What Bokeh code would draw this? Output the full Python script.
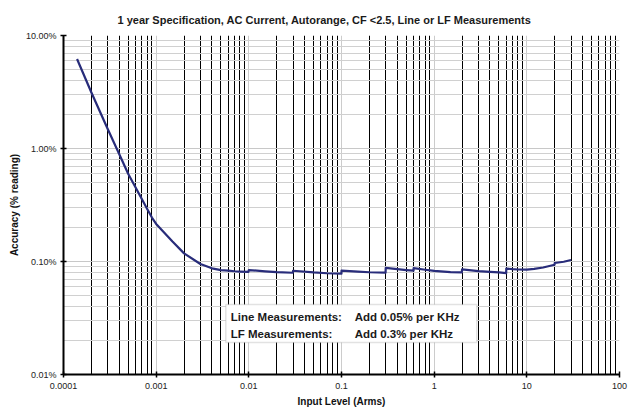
from bokeh.plotting import figure
from bokeh.models import Range1d, FixedTicker, BoxAnnotation, Label
from bokeh.embed import file_html
from bokeh.resources import INLINE

# ---- data ----
input_level = [0.00014, 0.0002, 0.0003, 0.0004, 0.0005, 0.0006, 0.0007, 0.0008, 0.0009,
               0.001, 0.0015, 0.002, 0.003, 0.004, 0.005, 0.006, 0.007, 0.008, 0.0099,
               0.01, 0.015, 0.02, 0.0299,
               0.03, 0.05, 0.07, 0.0999,
               0.1, 0.15, 0.2, 0.299,
               0.3, 0.4, 0.5, 0.599,
               0.6, 0.8, 1.0, 1.5, 1.99,
               2.0, 3.0, 4.0, 5.0, 5.99,
               6.0, 7.0, 8.0, 10.0, 12.0, 15.0, 19.9,
               20.0, 25.0, 30.0]
accuracy_pct = [6.2, 3.13, 1.49, 0.89, 0.594, 0.452, 0.357, 0.291, 0.245,
                0.215, 0.150, 0.118, 0.095, 0.087, 0.084, 0.0830, 0.0820, 0.0815, 0.0810,
                0.0840, 0.0818, 0.0805, 0.0795,
                0.0828, 0.0800, 0.0787, 0.0780,
                0.0830, 0.0812, 0.0803, 0.0797,
                0.0877, 0.0855, 0.0840, 0.0830,
                0.0873, 0.0845, 0.0825, 0.0805, 0.0800,
                0.0853, 0.0822, 0.0810, 0.0800, 0.0788,
                0.0866, 0.0855, 0.0850, 0.0848, 0.0860, 0.0885, 0.0935,
                0.0970, 0.0995, 0.103]

x_ticks = [0.0001, 0.001, 0.01, 0.1, 1, 10, 100]
x_tick_labels = ["0.0001", "0.001", "0.01", "0.1", "1", "10", "100"]
y_ticks = [0.01, 0.1, 1, 10]
y_tick_labels = ["0.01%", "0.10%", "1.00%", "10.00%"]

title_text = "1 year Specification, AC Current, Autorange, CF <2.5, Line or LF Measurements"
note_names = ["Line Measurements:", "LF Measurements:"]
note_values = ["Add 0.05% per KHz", "Add 0.3% per KHz"]

FONT = "Liberation Sans"

p = figure(width=642, height=409, x_axis_type="log", y_axis_type="log",
           x_range=Range1d(0.0001, 100), y_range=Range1d(0.01, 10),
           output_backend="svg", toolbar_location=None,
           min_border_left=63, min_border_right=23, min_border_top=35, min_border_bottom=35)

p.title.text = title_text
p.title.align = "left"
p.title.offset = 54
p.title.text_font = FONT
p.title.text_font_size = "11px"
p.title.text_font_style = "bold"
p.title.text_color = "#1a1a1a"
p.title.standoff = 20

p.outline_line_color = None
p.background_fill_color = "white"

x_minor = [m * 10.0 ** e for e in range(-4, 2) for m in range(2, 10)]
y_minor = [m * 10.0 ** e for e in range(-2, 1) for m in range(2, 10)]
xt = FixedTicker(ticks=x_ticks, minor_ticks=x_minor)
yt = FixedTicker(ticks=y_ticks, minor_ticks=y_minor)
p.xaxis.ticker = xt
p.yaxis.ticker = yt
p.xgrid.ticker = xt
p.ygrid.ticker = yt

p.xaxis.major_label_overrides = dict(zip(x_ticks, x_tick_labels))
p.yaxis.major_label_overrides = dict(zip(y_ticks, y_tick_labels))

for ax in (p.xaxis, p.yaxis):
    ax.axis_line_color = "black"
    ax.axis_line_width = 2
    ax.major_tick_line_color = "black"
    ax.major_tick_line_width = 1.5
    ax.major_tick_in = 3
    ax.major_tick_out = 3
    ax.minor_tick_line_color = None
    ax.major_label_text_font = FONT
    ax.major_label_text_font_size = "9px"
    ax.major_label_text_color = "#222222"
    ax.axis_label_text_font = FONT
    ax.axis_label_text_font_size = "10px"
    ax.axis_label_text_font_style = "bold"
    ax.axis_label_text_color = "#111111"

p.xaxis.axis_label = "Input Level (Arms)"
p.yaxis.axis_label = "Accuracy (% reading)"
p.xaxis.major_label_standoff = 4
p.xaxis.axis_label_standoff = 4
p.yaxis.major_label_standoff = 3
p.yaxis.axis_label_standoff = 3

p.xgrid.grid_line_color = "#cccccc"
p.xgrid.minor_grid_line_color = "black"
p.xgrid.minor_grid_line_width = 1
p.ygrid.grid_line_color = "#c8c8c8"
p.ygrid.minor_grid_line_color = "#d0d0d0"

p.line(input_level, accuracy_pct, line_color="#282c7a", line_width=2.2, line_join="round")

box = BoxAnnotation(left=0.00564, right=2.88, top=0.0417, bottom=0.0192,
                    fill_color="white", fill_alpha=1.0,
                    line_color="#a0a0a0", line_width=1.5)
p.add_layout(box)

rows_y = [0.0320, 0.0228]
for name, val, yy in zip(note_names, note_values, rows_y):
    p.add_layout(Label(x=0.00638, y=yy, text=name, text_font=FONT, text_font_size="11.5px",
                       text_font_style="bold", text_baseline="middle", text_color="#1a1a1a"))
    p.add_layout(Label(x=0.1387, y=yy, text=val, text_font=FONT, text_font_size="11.5px",
                       text_font_style="bold", text_baseline="middle", text_color="#1a1a1a"))

open("out.html", "w").write(file_html(p, INLINE))
